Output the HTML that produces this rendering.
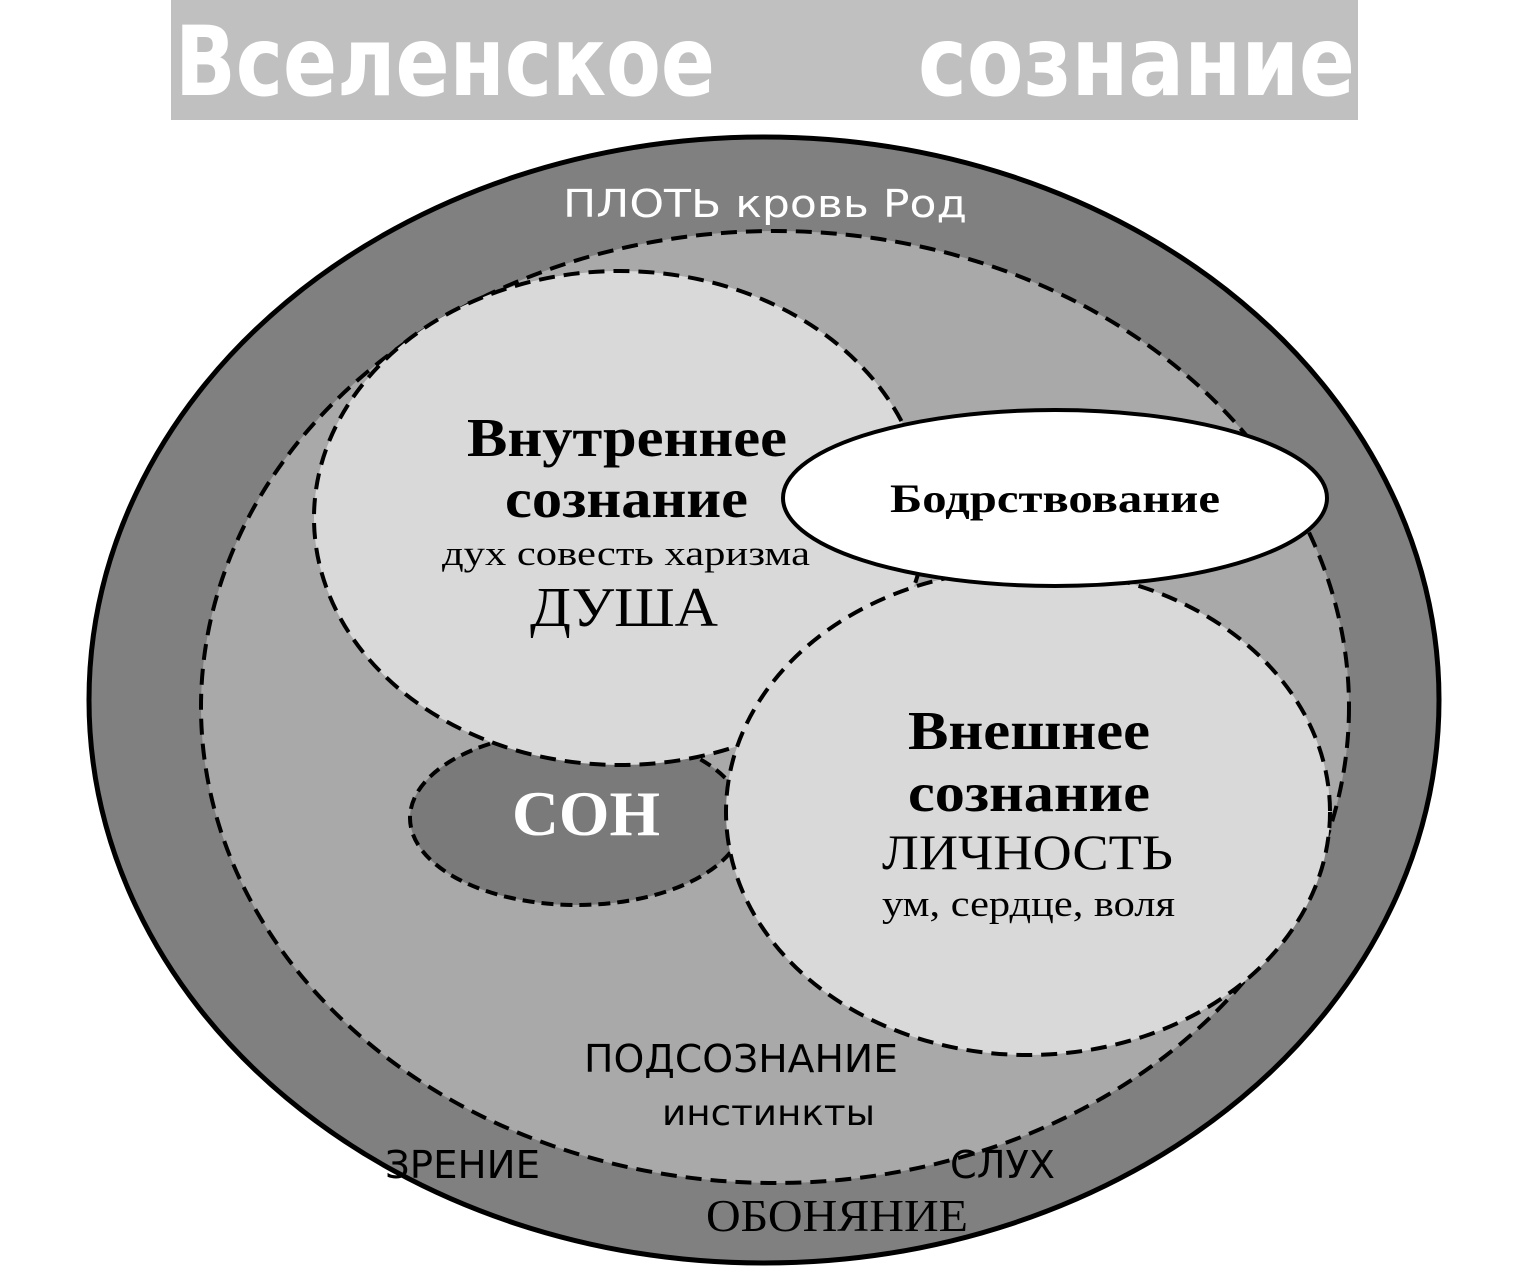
<!DOCTYPE html>
<html><head><meta charset="utf-8"><style>
html,body{margin:0;padding:0;background:#fff;}
svg{display:block;}
</style></head><body>
<svg width="1523" height="1267" viewBox="0 0 1523 1267" xmlns="http://www.w3.org/2000/svg">
<rect x="171" y="0" width="1187" height="120" fill="#c0c0c0"/>
<g font-family="'DejaVu Sans','Liberation Sans',sans-serif" font-weight="bold" font-size="96" fill="#fff">
<text x="175" y="95" textLength="540" lengthAdjust="spacingAndGlyphs">Вселенское</text>
<text x="918" y="95" textLength="437" lengthAdjust="spacingAndGlyphs">сознание</text>
</g>

<ellipse cx="764" cy="700" rx="675" ry="563" fill="#808080" stroke="#000" stroke-width="5"/>
<ellipse cx="775" cy="707" rx="574" ry="476" fill="#a9a9a9" stroke="#000" stroke-width="4" stroke-dasharray="16,9"/>
<ellipse cx="577" cy="818" rx="167" ry="87" fill="#7a7a7a" stroke="#000" stroke-width="4" stroke-dasharray="12,7"/>
<ellipse cx="620" cy="518" rx="306" ry="247" fill="#d9d9d9" stroke="#000" stroke-width="4" stroke-dasharray="16,9"/>
<ellipse cx="1028" cy="812" rx="302" ry="243" fill="#d9d9d9" stroke="#000" stroke-width="4" stroke-dasharray="16,9"/>
<ellipse cx="1055" cy="498" rx="272" ry="88" fill="#fff" stroke="#000" stroke-width="4"/>

<g font-family="'DejaVu Sans','Liberation Sans',sans-serif" font-size="38">
<text x="563" y="217" fill="#fff" textLength="404" lengthAdjust="spacingAndGlyphs">ПЛОТЬ  кровь  Род</text>
<text x="584" y="1072" fill="#000" textLength="314" lengthAdjust="spacingAndGlyphs">ПОДСОЗНАНИЕ</text>
<text x="662" y="1125" fill="#000" font-size="36" textLength="213" lengthAdjust="spacingAndGlyphs">инстинкты</text>
<text x="385" y="1178" fill="#000" textLength="155" lengthAdjust="spacingAndGlyphs">ЗРЕНИЕ</text>
<text x="950" y="1178" fill="#000" textLength="105" lengthAdjust="spacingAndGlyphs">СЛУХ</text>
</g>
<g font-family="'Liberation Serif',serif" fill="#000">
<text x="467" y="456" font-size="55" font-weight="bold" textLength="320" lengthAdjust="spacingAndGlyphs">Внутреннее</text>
<text x="505" y="517" font-size="55" font-weight="bold" textLength="243" lengthAdjust="spacingAndGlyphs">сознание</text>
<text x="442" y="565" font-size="35" textLength="368" lengthAdjust="spacingAndGlyphs">дух совесть харизма</text>
<text x="530" y="626" font-size="56" textLength="188" lengthAdjust="spacingAndGlyphs">ДУША</text>
<text x="890" y="512" font-size="40" font-weight="bold" textLength="330" lengthAdjust="spacingAndGlyphs">Бодрствование</text>
<text x="512" y="835" font-size="64" font-weight="bold" fill="#fff" textLength="148" lengthAdjust="spacingAndGlyphs">СОН</text>
<text x="908" y="749" font-size="55" font-weight="bold" textLength="242" lengthAdjust="spacingAndGlyphs">Внешнее</text>
<text x="908" y="811" font-size="55" font-weight="bold" textLength="242" lengthAdjust="spacingAndGlyphs">сознание</text>
<text x="882" y="869" font-size="50" textLength="291" lengthAdjust="spacingAndGlyphs">ЛИЧНОСТЬ</text>
<text x="882" y="916" font-size="37" textLength="293" lengthAdjust="spacingAndGlyphs">ум, сердце, воля</text>
<text x="706" y="1231" font-size="46" textLength="262" lengthAdjust="spacingAndGlyphs">ОБОНЯНИЕ</text>
</g>
</svg>
</body></html>
